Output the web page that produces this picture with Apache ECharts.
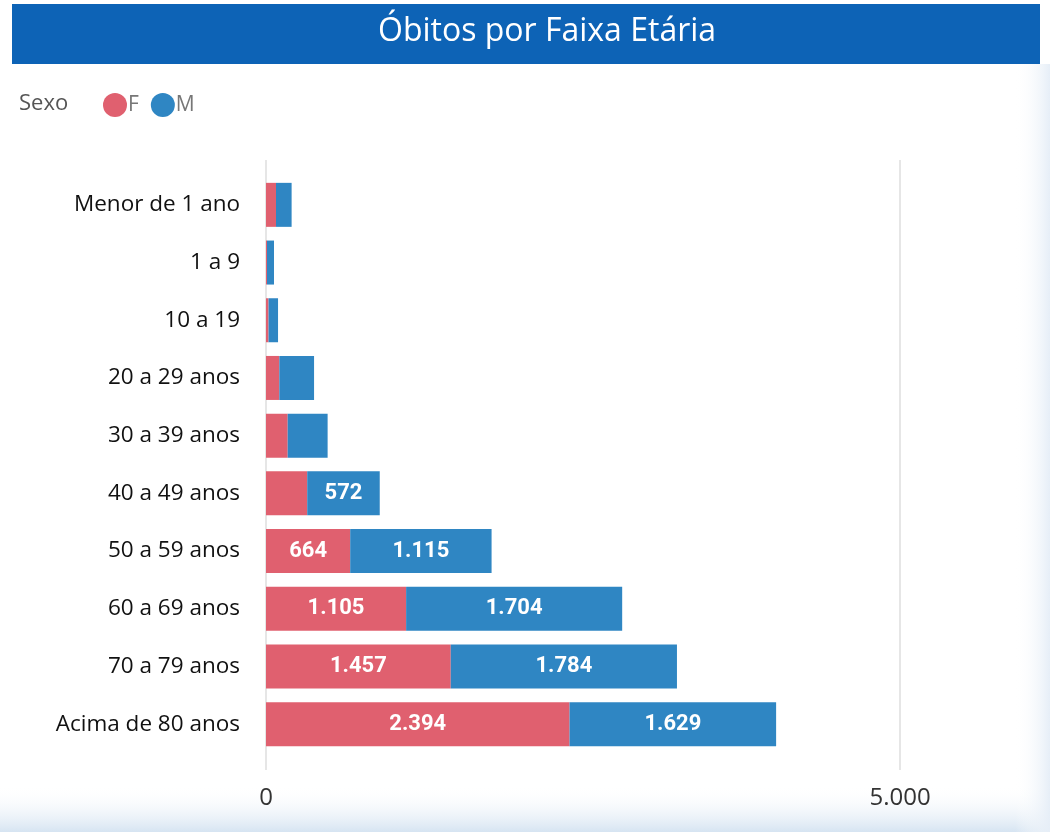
<!DOCTYPE html>
<html>
<head>
<meta charset="utf-8">
<script src="https://cdn.jsdelivr.net/npm/echarts@6/dist/echarts.min.js"></script>
<style>
    html, body { margin: 0; padding: 0; background: #fff; }
    .chart { width: 1050px; height: 832px; }
</style>
</head>
<body>
<div class="chart"></div>
<script>
// faixas etárias
var categorias = ['Menor de 1 ano', '1 a 9', '10 a 19', '20 a 29 anos', '30 a 39 anos',
    '40 a 49 anos', '50 a 59 anos', '60 a 69 anos', '70 a 79 anos', 'Acima de 80 anos'];
// óbitos por sexo
var feminino = [79, 8, 20, 105, 171, 325, 664, 1105, 1457, 2394];
var masculino = [123, 55, 75, 274, 315, 572, 1115, 1704, 1784, 1629];
var eixoTicks = [0, 5000];

(function () {
    var myChart = echarts.init(document.querySelector('.chart'));

    function fmt(v) {
        return String(v).replace(/\B(?=(\d{3})+(?!\d))/g, '.');
    }

    // rótulo só aparece quando cabe na barra
    var rotulo = {
        show: true,
        position: 'inside',
        color: '#fff',
        fontFamily: 'Roboto',
        fontWeight: 'bold',
        fontSize: 22,
        formatter: function (p) {
            return p.value >= 500 ? fmt(p.value) : '';
        }
    };

    var option = {
        animation: false,
        backgroundColor: '#fff',
        title: {
            text: 'Óbitos por Faixa Etária',
            left: 373,
            top: 11,
            textStyle: { color: '#fff', fontSize: 32, fontWeight: 'normal', fontFamily: 'Open Sans' }
        },
        legend: {
            left: 98,
            top: 88,
            icon: 'circle',
            itemWidth: 24,
            itemHeight: 24,
            itemGap: 12,
            textStyle: { color: '#777', fontSize: 21, fontFamily: 'Open Sans', padding: [0, 0, 0, -4] },
            data: ['F', 'M']
        },
        graphic: [
            { type: 'rect', z: -1, shape: { x: 12, y: 4, width: 1028, height: 60 }, style: { fill: '#0d63b6' } },
            {
                type: 'rect', z: -1, shape: { x: 0, y: 785, width: 1050, height: 47 },
                style: {
                    fill: new echarts.graphic.LinearGradient(0, 0, 0, 1, [
                        { offset: 0, color: 'rgba(255,255,255,0)' },
                        { offset: 1, color: '#d6e4f2' }
                    ])
                }
            },
            {
                type: 'rect', z: -1, shape: { x: 1015, y: 64, width: 35, height: 768 },
                style: {
                    fill: new echarts.graphic.LinearGradient(0, 0, 1, 0, [
                        { offset: 0, color: 'rgba(255,255,255,0)' },
                        { offset: 1, color: '#e6eef7' }
                    ])
                }
            },
            {
                type: 'text', left: 19, top: 93,
                style: { text: 'Sexo', fill: '#555', fontSize: 22, fontFamily: 'Open Sans' }
            }
        ],
        grid: [
            { left: 266, width: 634, top: 160, height: 610 },
            { left: 266, width: 634, top: 176, height: 577 }
        ],
        xAxis: [
            {
                gridIndex: 0,
                type: 'value',
                min: eixoTicks[0],
                max: eixoTicks[1],
                interval: 5000,
                axisLine: { show: false },
                axisTick: { show: false },
                splitLine: { lineStyle: { color: '#e6e6e6', width: 2 } },
                axisLabel: {
                    margin: 16,
                    color: '#333',
                    fontSize: 24,
                    fontFamily: 'Open Sans',
                    formatter: function (v) { return fmt(v); }
                }
            },
            {
                gridIndex: 1,
                type: 'value',
                min: eixoTicks[0],
                max: eixoTicks[1],
                show: false
            }
        ],
        yAxis: [
            { gridIndex: 0, type: 'value', min: 0, max: 1, show: false },
            {
                gridIndex: 1,
                type: 'category',
                inverse: true,
                data: categorias,
                axisLine: { show: false },
                axisTick: { show: false },
                axisLabel: { margin: 26, color: '#111', fontSize: 22.5, fontFamily: 'Open Sans' }
            }
        ],
        series: [
            {
                name: 'F',
                type: 'bar',
                stack: 'sexo',
                xAxisIndex: 1,
                yAxisIndex: 1,
                barWidth: 44,
                itemStyle: { color: '#e0606f' },
                label: rotulo,
                data: feminino
            },
            {
                name: 'M',
                type: 'bar',
                stack: 'sexo',
                xAxisIndex: 1,
                yAxisIndex: 1,
                barWidth: 44,
                itemStyle: { color: '#2f86c3' },
                label: rotulo,
                data: masculino
            }
        ]
    };

    myChart.setOption(option);

    window.addEventListener('resize', function () {
        myChart.resize();
    });
})();
</script>
</body>
</html>
